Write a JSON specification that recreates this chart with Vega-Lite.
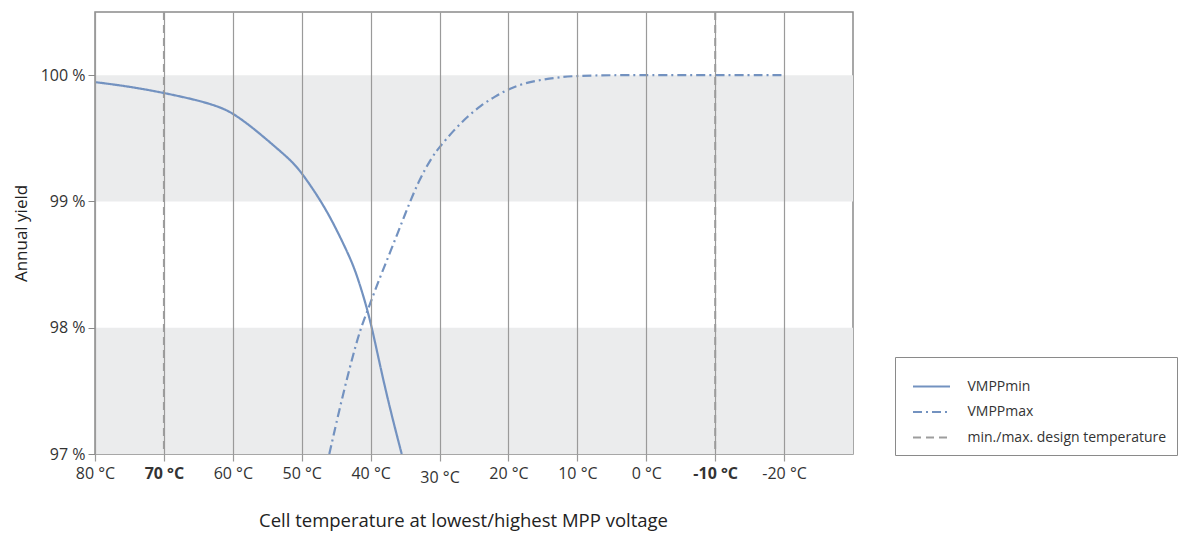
{
  "$schema": "https://vega.github.io/schema/vega-lite/v6.json",
  "autosize": "none",
  "width": 758,
  "height": 442,
  "padding": {"left": 95, "top": 12, "right": 350, "bottom": 80},
  "background": "white",
  "config": {
    "view": {"stroke": "#8a8a8a", "strokeWidth": 1.5},
    "font": "Open Sans"
  },
  "datasets": {
    "bands": [{"lo": 97, "hi": 98}, {"lo": 99, "hi": 100}],
    "curves": [
      {"series": "VMPPmin", "temp": 80, "yield": 99.945},
      {"series": "VMPPmin", "temp": 75, "yield": 99.91},
      {"series": "VMPPmin", "temp": 70, "yield": 99.86},
      {"series": "VMPPmin", "temp": 65, "yield": 99.8},
      {"series": "VMPPmin", "temp": 62, "yield": 99.75},
      {"series": "VMPPmin", "temp": 60, "yield": 99.7},
      {"series": "VMPPmin", "temp": 57, "yield": 99.58},
      {"series": "VMPPmin", "temp": 53.15, "yield": 99.4},
      {"series": "VMPPmin", "temp": 51.5, "yield": 99.32},
      {"series": "VMPPmin", "temp": 50, "yield": 99.228},
      {"series": "VMPPmin", "temp": 47.35, "yield": 99.016},
      {"series": "VMPPmin", "temp": 45.42, "yield": 98.83},
      {"series": "VMPPmin", "temp": 43.47, "yield": 98.61},
      {"series": "VMPPmin", "temp": 42.5, "yield": 98.49},
      {"series": "VMPPmin", "temp": 41.54, "yield": 98.34},
      {"series": "VMPPmin", "temp": 40.19, "yield": 98.09},
      {"series": "VMPPmin", "temp": 39.12, "yield": 97.825},
      {"series": "VMPPmin", "temp": 38.06, "yield": 97.561},
      {"series": "VMPPmin", "temp": 36.8, "yield": 97.275},
      {"series": "VMPPmin", "temp": 35.49, "yield": 97.0},
      {"series": "VMPPmax", "temp": 46, "yield": 97.0},
      {"series": "VMPPmax", "temp": 44, "yield": 97.48},
      {"series": "VMPPmax", "temp": 42, "yield": 97.9},
      {"series": "VMPPmax", "temp": 41, "yield": 98.06},
      {"series": "VMPPmax", "temp": 40, "yield": 98.2},
      {"series": "VMPPmax", "temp": 39, "yield": 98.35},
      {"series": "VMPPmax", "temp": 37, "yield": 98.62},
      {"series": "VMPPmax", "temp": 35, "yield": 98.9},
      {"series": "VMPPmax", "temp": 33, "yield": 99.17},
      {"series": "VMPPmax", "temp": 31, "yield": 99.36},
      {"series": "VMPPmax", "temp": 30, "yield": 99.43},
      {"series": "VMPPmax", "temp": 28, "yield": 99.56},
      {"series": "VMPPmax", "temp": 26, "yield": 99.67},
      {"series": "VMPPmax", "temp": 24, "yield": 99.76},
      {"series": "VMPPmax", "temp": 22, "yield": 99.83},
      {"series": "VMPPmax", "temp": 20, "yield": 99.89},
      {"series": "VMPPmax", "temp": 17.5, "yield": 99.94},
      {"series": "VMPPmax", "temp": 15, "yield": 99.965},
      {"series": "VMPPmax", "temp": 12.5, "yield": 99.985},
      {"series": "VMPPmax", "temp": 10, "yield": 99.995},
      {"series": "VMPPmax", "temp": 5, "yield": 100},
      {"series": "VMPPmax", "temp": 0, "yield": 100},
      {"series": "VMPPmax", "temp": -10, "yield": 100},
      {"series": "VMPPmax", "temp": -20, "yield": 100}
    ],
    "design": [
      {"series": "min./max. design temperature", "temp": 70},
      {"series": "min./max. design temperature", "temp": -10}
    ]
  },
  "layer": [
    {
      "data": {"name": "bands"},
      "mark": {"type": "rect", "color": "#ebeced"},
      "encoding": {
        "y": {"field": "lo", "type": "quantitative", "scale": {"domain": [97, 100.5], "nice": false, "zero": false}},
        "y2": {"field": "hi"}
      }
    },
    {
      "data": {"name": "design"},
      "mark": {"type": "rule", "strokeWidth": 2},
      "encoding": {
        "x": {"field": "temp", "type": "quantitative"},
        "color": {"field": "series", "type": "nominal"},
        "strokeDash": {"field": "series", "type": "nominal"}
      }
    },
    {
      "data": {"name": "curves"},
      "mark": {"type": "line", "strokeWidth": 2.2, "interpolate": "basis", "clip": true},
      "encoding": {
        "x": {
          "field": "temp", "type": "quantitative",
          "scale": {"domain": [80, -30], "nice": false, "zero": false},
          "axis": {
            "values": [80, 70, 60, 50, 40, 30, 20, 10, 0, -10, -20],
            "labelExpr": "datum.value + ' °C'",
            "labelFontWeight": {"expr": "datum.value == 70 || datum.value == -10 ? 'bold' : 'normal'"},
            "labelPadding": {"expr": "datum.value == 30 ? 8 : 4"},
            "labelFlush": false,
            "labelFontSize": 16,
            "labelColor": "#333",
            "labelFont": "Open Sans",
            "grid": true,
            "gridColor": "#9a9a9a",
            "gridWidth": 1.2,
            "ticks": true,
            "tickSize": 7,
            "tickColor": "#9a9a9a",
            "tickWidth": 1.2,
            "domain": false,
            "zindex": 1,
            "title": "Cell temperature at lowest/highest MPP voltage",
            "titleFontSize": 18.5,
            "titleFontWeight": "normal",
            "titleColor": "#222",
            "titleFont": "Open Sans",
            "titlePadding": 26,
            "titleX": 368
          }
        },
        "y": {
          "field": "yield", "type": "quantitative",
          "axis": {
            "values": [97, 98, 99, 100],
            "labelExpr": "datum.value + ' %'",
            "labelFontSize": 16,
            "labelColor": "#333",
            "labelFont": "Open Sans",
            "grid": false,
            "domain": false,
            "tickSize": 7,
            "tickColor": "#8a8a8a",
            "labelPadding": 3,
            "title": "Annual yield",
            "titleFontSize": 17,
            "titleFontWeight": "normal",
            "titleColor": "#222",
            "titleFont": "Open Sans",
            "titlePadding": 10
          }
        },
        "color": {
          "field": "series", "type": "nominal",
          "scale": {
            "domain": ["VMPPmin", "VMPPmax", "min./max. design temperature"],
            "range": ["#7392c0", "#7392c0", "#9d9d9d"]
          },
          "legend": {
            "title": " ",
            "titleFontSize": 5,
            "titlePadding": 4,
            "orient": "none",
            "legendX": 800,
            "legendY": 345,
            "strokeColor": "#8a8a8a",
            "padding": 10,
            "symbolType": "M-2,0H2",
            "symbolSize": 342,
            "symbolOffset": 16,
            "symbolStrokeWidth": 2,
            "labelFontSize": 14,
            "labelFont": "Open Sans",
            "labelColor": "#333",
            "labelOffset": 25.5,
            "labelLimit": 0,
            "rowPadding": 7.5
          }
        },
        "strokeDash": {
          "field": "series", "type": "nominal",
          "scale": {
            "domain": ["VMPPmin", "VMPPmax", "min./max. design temperature"],
            "range": [[1, 0], [9, 4, 2, 4], [8, 5]]
          },
          "legend": {
            "title": " ",
            "titleFontSize": 5,
            "titlePadding": 4,
            "orient": "none",
            "legendX": 800,
            "legendY": 345,
            "strokeColor": "#8a8a8a",
            "padding": 10,
            "symbolType": "M-2,0H2",
            "symbolSize": 342,
            "symbolOffset": 16,
            "symbolStrokeWidth": 2,
            "labelFontSize": 14,
            "labelFont": "Open Sans",
            "labelColor": "#333",
            "labelOffset": 25.5,
            "labelLimit": 0,
            "rowPadding": 7.5
          }
        }
      }
    }
  ]
}
